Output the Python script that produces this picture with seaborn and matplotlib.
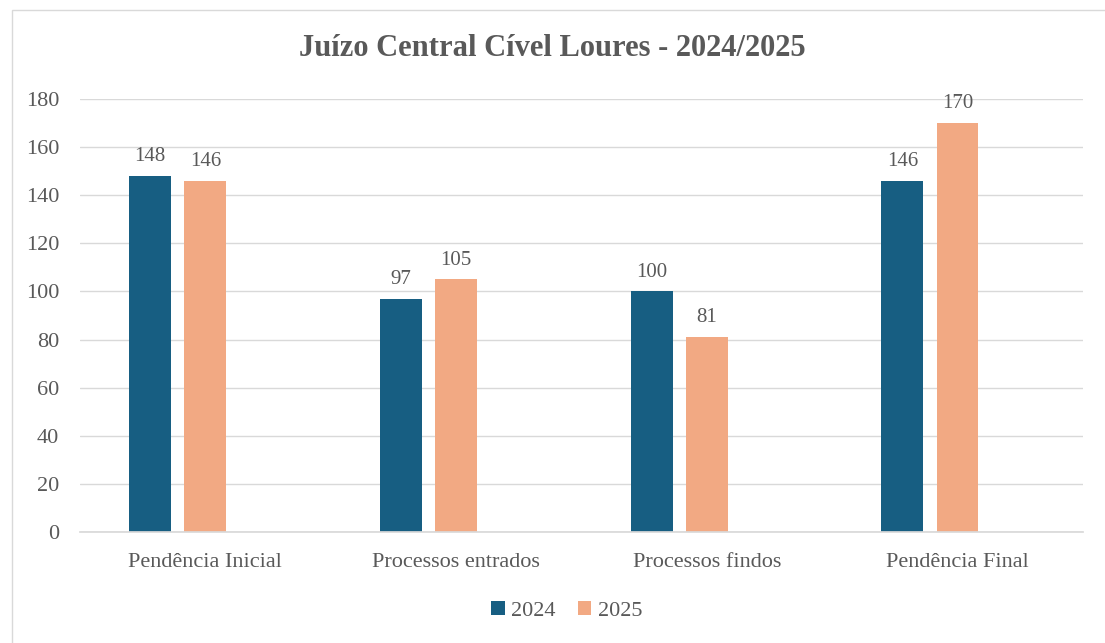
import numpy as np
import pandas as pd
import matplotlib
matplotlib.use("Agg")
import matplotlib.pyplot as plt
import seaborn as sns
from matplotlib.patches import Rectangle

categories = ["Pendência Inicial", "Processos entrados", "Processos findos", "Pendência Final"]
values_2024 = [148, 97, 100, 146]
values_2025 = [146, 105, 81, 170]

# third, empty series keeps the bars pushed left inside each group (as in the original)
df = pd.DataFrame({
    "cat": categories * 3,
    "year": ["2024"] * 4 + ["2025"] * 4 + ["_pad"] * 4,
    "val": values_2024 + values_2025 + [0] * 4,
})

sns.set_theme(style="white")
plt.rcParams["font.family"] = ["Liberation Serif", "DejaVu Serif"]
grey = "#595959"

fig = plt.figure(figsize=(11.05, 6.43), dpi=100)
ax = fig.add_axes([0.0724, 0.1726, 0.9076, 0.6734])

palette = {"2024": "#175E82", "2025": "#F2A983", "_pad": "#FFFFFF"}
sns.barplot(data=df, x="cat", y="val", hue="year", hue_order=["2024", "2025", "_pad"],
            palette=palette, width=0.66, gap=0.24, linewidth=0, saturation=1,
            legend=False, ax=ax)

for cont in ax.containers[:2]:
    ax.bar_label(cont, padding=7, fontsize=15, color=grey)

ax.set_ylim(0, 180)
ax.set_yticks(range(0, 181, 20))
ax.yaxis.grid(True, color="#D9D9D9", linewidth=1)
ax.set_axisbelow(True)
for s in ["left", "right", "top"]:
    ax.spines[s].set_visible(False)
ax.spines["bottom"].set_color("#D9D9D9")
ax.tick_params(axis="both", length=0, labelsize=16, labelcolor=grey)
ax.tick_params(axis="x", pad=15)
ax.tick_params(axis="y", pad=15)
ax.set_xlabel("")
ax.set_ylabel("")

fig.text(0.5, 0.925, "Juízo Central Cível Loures - 2024/2025", ha="center", va="center",
         fontsize=22, fontweight="bold", color=grey)

handles = [ax.containers[0].patches[0], ax.containers[1].patches[0]]
fig.legend(handles, ["2024", "2025"], loc="center", bbox_to_anchor=(0.513, 0.05),
           ncol=2, frameon=False, fontsize=16, labelcolor=grey,
           handlelength=0.6, handleheight=0.6, handletextpad=0.3, columnspacing=1.0)

fig.patches.append(Rectangle((12 / 1105, -0.01), 1.1, 1 - 10 / 643 + 0.01,
                             transform=fig.transFigure, fill=False,
                             edgecolor="#D9D9D9", linewidth=1))

fig.savefig("out.png", dpi=100)
